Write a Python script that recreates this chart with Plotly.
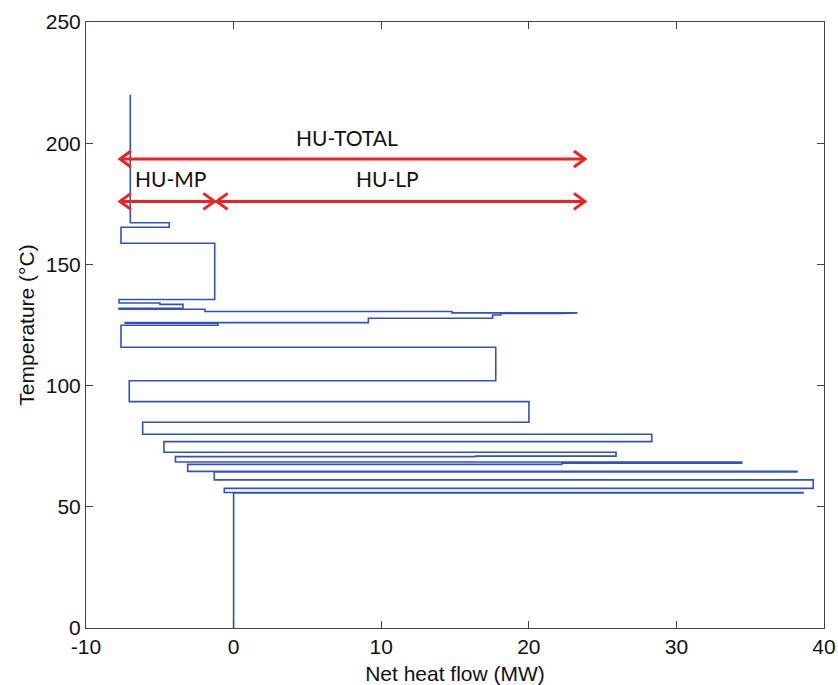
import plotly.graph_objects as go

# Grand composite curve (net heat flow MW, temperature degC)
curve_x = [-7.0, -7.0, -4.36, -4.36, -7.63, -7.63, -1.28, -1.28, -7.76, -7.76,
           -4.99, -4.99, -3.43, -3.43, -7.76, -7.76, -1.94, -1.94, 14.8, 14.8,
           23.3, 22.2, 18.1, 18.1, 17.55, 17.55, 9.13, 9.13, -7.35, -7.35,
           -1.06, -1.06, -7.63, -7.63, 17.76, 17.76, -7.07, -7.07, 20.01, 20.01,
           -6.16, -6.16, 28.33, 28.33, -4.72, -4.72, 25.91, 25.91, 16.4, 16.4,
           -3.94, -3.94, 34.42, 34.42, 22.23, 22.23, -3.11, -3.11, 38.17, 38.17,
           -1.31, -1.31, 39.27, 39.27, -0.63, -0.63, 38.58, 38.58, 0.0, 0.0]
curve_T = [220.0, 167.2, 167.2, 165.3, 165.3, 158.7, 158.7, 135.5, 135.5, 134.1,
           134.1, 133.5, 133.5, 132.0, 131.9, 131.5, 131.5, 130.6, 130.6, 130.0,
           130.0, 129.8, 129.8, 129.1, 129.1, 127.8, 127.8, 126.0, 126.0, 125.7,
           125.7, 124.9, 124.9, 115.8, 115.8, 102.0, 102.0, 93.4, 93.4, 84.9,
           84.9, 79.9, 79.9, 76.9, 76.9, 72.5, 72.5, 70.9, 70.9, 70.7,
           70.7, 68.5, 68.5, 67.95, 67.95, 67.5, 67.5, 64.6, 64.6, 64.4,
           64.4, 61.1, 61.1, 57.6, 57.6, 55.9, 55.9, 55.7, 55.7, 0.0]

# Utility arrows
arrow_names = ["HU-TOTAL", "HU-MP", "HU-LP"]
arrow_x_start = [-7.7, -7.7, -1.15]
arrow_x_end = [23.8, -1.3, 23.8]
arrow_T = [193.5, 176.0, 176.0]
label_x = [7.7, -4.3, 10.4]
label_T = [202.4, 185.6, 185.6]

x_range = [-10, 40]
y_range = [0, 250]
x_ticks = [-10, 0, 10, 20, 30, 40]
x_ticktext = ["-10", "0", "10", "20", "30", "40"]
y_ticks = [0, 50, 100, 150, 200, 250]

L, R, T, B = 86, 14, 22, 57
W, H = 838, 685
px_x = (x_range[1] - x_range[0]) / (W - L - R)
px_y = (y_range[1] - y_range[0]) / (H - T - B)

fig = go.Figure()
fig.add_trace(go.Scatter(x=curve_x, y=curve_T, mode="lines",
                         line=dict(color="#3350c0", width=1.6),
                         hoverinfo="skip", showlegend=False))

red = "#ee2222"
ax_len, ay_len = 11 * px_x, 8 * px_y
for xs, xe, ty in zip(arrow_x_start, arrow_x_end, arrow_T):
    fig.add_trace(go.Scatter(x=[xs, xe], y=[ty, ty], mode="lines",
                             line=dict(color=red, width=3), showlegend=False,
                             hoverinfo="skip"))
    fig.add_trace(go.Scatter(x=[xs + ax_len, xs, xs + ax_len],
                             y=[ty + ay_len, ty, ty - ay_len], mode="lines",
                             line=dict(color=red, width=3), showlegend=False,
                             hoverinfo="skip"))
    fig.add_trace(go.Scatter(x=[xe - ax_len, xe, xe - ax_len],
                             y=[ty + ay_len, ty, ty - ay_len], mode="lines",
                             line=dict(color=red, width=3), showlegend=False,
                             hoverinfo="skip"))

for name, lx, lt in zip(arrow_names, label_x, label_T):
    fig.add_annotation(x=lx, y=lt, text=name, showarrow=False,
                       font=dict(family="Lato, Open Sans, sans-serif", size=21, color="#111111"))

axis_common = dict(showgrid=False, zeroline=False, showline=True, linecolor="#444444",
                   linewidth=1, mirror="ticks", ticks="inside", ticklen=7,
                   tickcolor="#444444", automargin=False,
                   tickfont=dict(family="Liberation Sans, Arial", size=21, color="#111111"))
fig.update_xaxes(range=x_range, tickvals=x_ticks, ticktext=x_ticktext, **axis_common,
                 title=dict(text="Net heat flow (MW)",
                            font=dict(family="Liberation Sans, Arial", size=21, color="#111111")))
fig.update_yaxes(range=y_range, tickvals=y_ticks, **axis_common,
                 title=dict(text="Temperature (°C)",
                            font=dict(family="Liberation Sans, Arial", size=21, color="#111111")))
fig.update_layout(width=W, height=H, margin=dict(l=L, r=R, t=T, b=B),
                  plot_bgcolor="white", paper_bgcolor="white", template="none")
fig.write_html("out.html")
